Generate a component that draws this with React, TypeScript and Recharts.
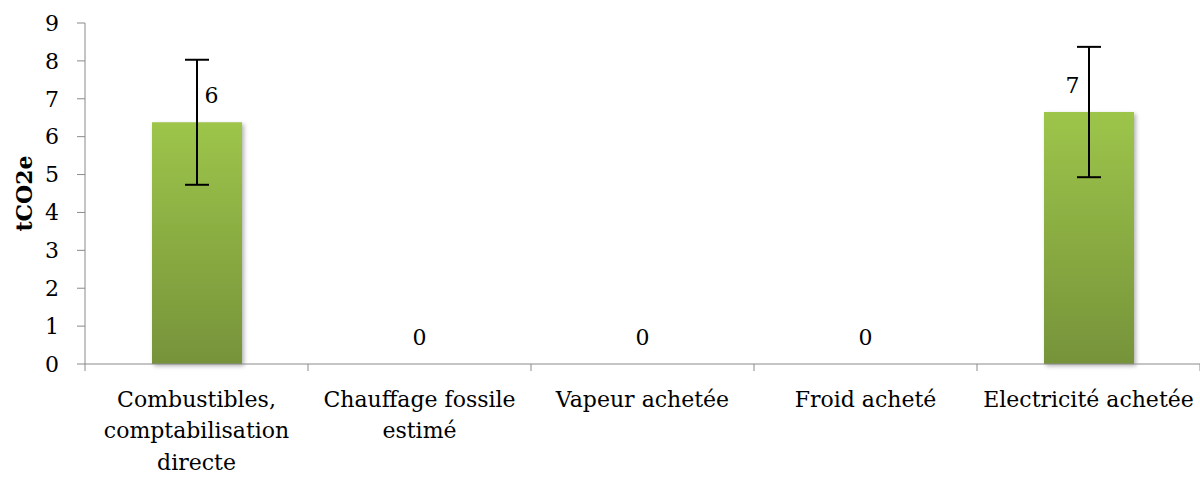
import React from 'react';
import { ComposedChart, Bar, Line, XAxis, YAxis, ErrorBar, LabelList } from 'recharts';

const categories = [
  'Combustibles, comptabilisation directe',
  'Chauffage fossile estimé',
  'Vapeur achetée',
  'Froid acheté',
  'Electricité achetée',
];
const tickLines = [
  ['Combustibles,', 'comptabilisation', 'directe'],
  ['Chauffage fossile', 'estimé'],
  ['Vapeur achetée'],
  ['Froid acheté'],
  ['Electricité achetée'],
];
const values = [6.38, 0, 0, 0, 6.65];
const errors: (number | null)[] = [1.65, null, null, null, 1.72];
const yTicks = [0, 1, 2, 3, 4, 5, 6, 7, 8, 9];

const data = categories.map((name, i) => ({ name, value: values[i], err: errors[i] }));

const FONT = '"DejaVu Serif", serif';
const FS = 22;
const AXIS = '#8a8a8a';
const W = 1200;
const H = 477;
const YW = 85;
const BAND = (W - YW) / categories.length;
const labelShift = [15, 0, 0, 0, -16];

const CatTick = (props: any) => {
  const { x, y, index } = props;
  const lines = tickLines[index] || [];
  return (
    <g>
      <line x1={x - BAND / 2} x2={x - BAND / 2} y1={y} y2={y + 7} stroke={AXIS} strokeWidth={1} />
      {index === categories.length - 1 && (
        <line x1={x + BAND / 2} x2={x + BAND / 2} y1={y} y2={y + 7} stroke={AXIS} strokeWidth={1} />
      )}
      <text x={x} y={y} textAnchor="middle" fontFamily={FONT} fontSize={FS} fill="#000">
        {lines.map((l, i) => (
          <tspan key={i} x={x} y={y + 42.5 + i * 31.6}>
            {l}
          </tspan>
        ))}
      </text>
    </g>
  );
};

const ValueLabel = (props: any) => {
  const { x, y, value } = props;
  const w = props.width || 0;
  const cx = x + w / 2;
  const idx = Math.max(0, Math.min(categories.length - 1, Math.floor((cx - YW) / BAND)));
  return (
    <text
      x={cx + labelShift[idx]}
      y={y - 27}
      textAnchor="middle"
      dominantBaseline="central"
      fontFamily={FONT}
      fontSize={FS}
      fill="#000"
    >
      {Math.round(Number(value))}
    </text>
  );
};

export default function App() {
  return (
    <div style={{ position: 'absolute', left: 0, top: 0, width: W, height: H, background: '#fff' }}>
      <ComposedChart width={W} height={H} data={data} margin={{ top: 23, right: 0, bottom: 0, left: 0 }}>
        <defs>
          <linearGradient id="barGrad" x1="0" y1="0" x2="0" y2="1">
            <stop offset="0%" stopColor="#9dc54a" />
            <stop offset="100%" stopColor="#76933a" />
          </linearGradient>
          <filter id="shadow" x="-10%" y="-10%" width="130%" height="130%">
            <feDropShadow dx="2" dy="2" stdDeviation="2" floodColor="#000" floodOpacity="0.3" />
          </filter>
        </defs>
        <XAxis
          dataKey="name"
          interval={0}
          height={113}
          tickLine={false}
          tickSize={0}
          tickMargin={0}
          axisLine={{ stroke: AXIS, strokeWidth: 1 }}
          tick={<CatTick />}
        />
        <YAxis
          width={YW}
          domain={[0, 9]}
          ticks={yTicks}
          interval={0}
          tickSize={8}
          tickMargin={18}
          axisLine={{ stroke: AXIS, strokeWidth: 1 }}
          tickLine={{ stroke: AXIS, strokeWidth: 1 }}
          tick={{ fontFamily: FONT, fontSize: FS, fill: '#000' }}
          label={{
            value: 'tCO2e',
            angle: -90,
            position: 'insideLeft',
            offset: 24,
            style: { fontFamily: FONT, fontSize: FS, fontWeight: 'bold', fill: '#000', textAnchor: 'middle' },
          }}
        />
        <Bar dataKey="value" barSize={90} fill="url(#barGrad)" filter="url(#shadow)" isAnimationActive={false}>
          <ErrorBar dataKey="err" width={12} strokeWidth={2} stroke="#000" />
        </Bar>
        <Line dataKey="value" stroke="none" dot={false} activeDot={false} legendType="none" isAnimationActive={false}>
          <LabelList dataKey="value" content={<ValueLabel />} />
        </Line>
      </ComposedChart>
    </div>
  );
}
